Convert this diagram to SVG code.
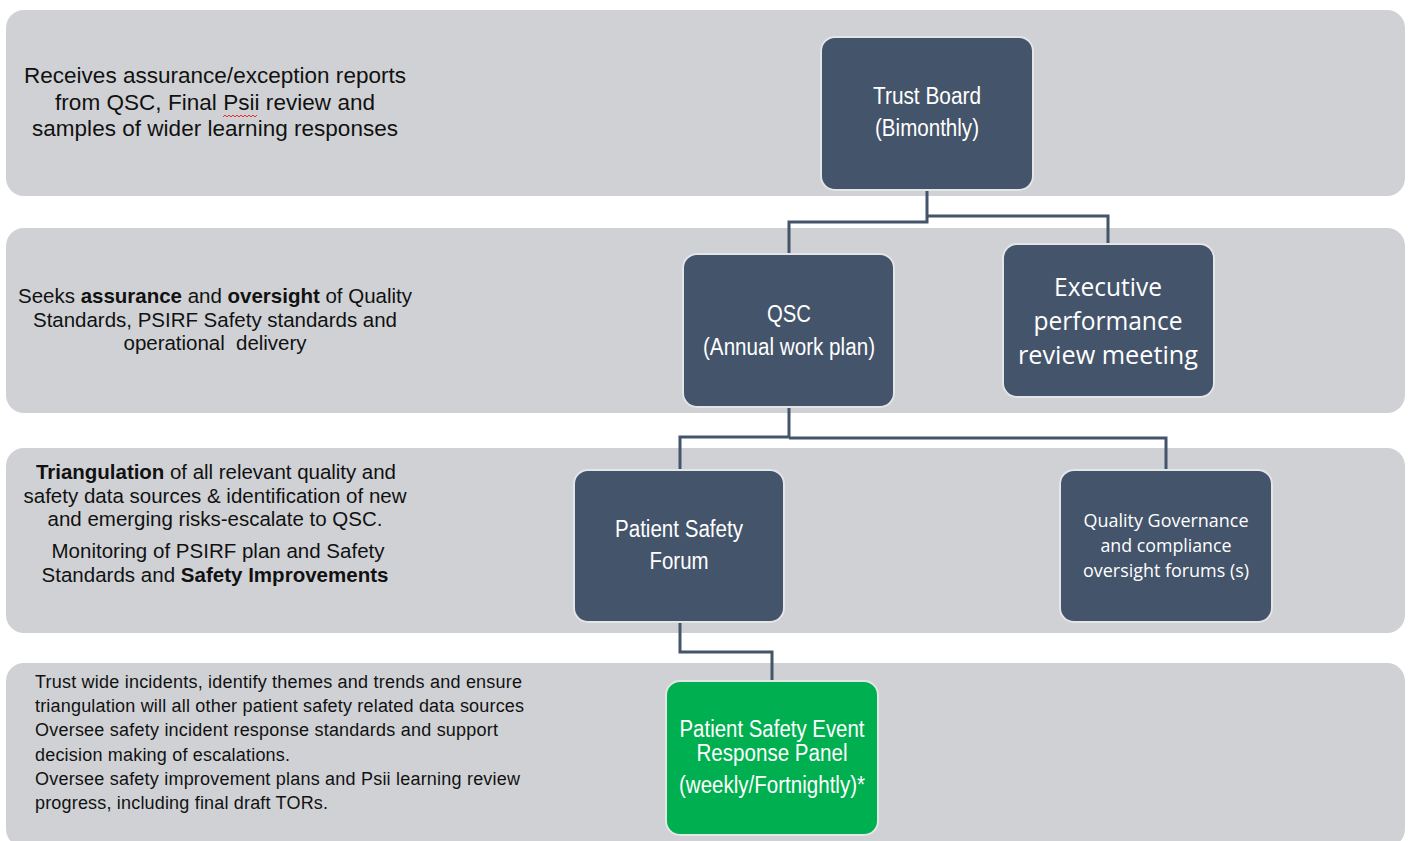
<svg xmlns="http://www.w3.org/2000/svg" width="1411" height="841" viewBox="0 0 1411 841">
<defs>
<style>
.band{fill:#D0D1D5;}
.node{fill:#44546A;stroke:#E4E5E8;stroke-width:2;}
.green{fill:#00B050;stroke:#E4E5E8;stroke-width:2;}
.nt{font-family:"Liberation Sans",Arial,sans-serif;fill:#FFFFFF;text-anchor:middle;}
.ct{font-family:"Open Sans","Noto Sans",sans-serif;fill:#FFFFFF;text-anchor:middle;}
.bt{font-family:"Liberation Sans",Arial,sans-serif;fill:#111111;text-anchor:middle;}
.lt{font-family:"Liberation Sans",Arial,sans-serif;fill:#111111;font-size:18px;}
.b{font-weight:bold;}
.conn{fill:none;stroke:#44546A;stroke-width:3;stroke-linejoin:miter;}
</style>
</defs>
<rect width="1411" height="841" fill="#FFFFFF"/>
<g id="bands">
<rect class="band" x="6" y="10" width="1399" height="186" rx="18"/>
<rect class="band" x="6" y="228" width="1399" height="185" rx="18"/>
<rect class="band" x="6" y="448" width="1399" height="185" rx="18"/>
<rect class="band" x="6" y="663" width="1399" height="184" rx="18"/>
</g>
<g id="band-texts">
<text class="bt" font-size="22.5"><tspan x="215" y="83" textLength="382">Receives assurance/exception reports</tspan><tspan x="215" y="110" textLength="320">from QSC, Final Psii review and</tspan><tspan x="215" y="136" textLength="366">samples of wider learning responses</tspan></text>
<path d="M223,117 l2,-2 l2,2 l2,-2 l2,2 l2,-2 l2,2 l2,-2 l2,2 l2,-2 l2,2 l2,-2 l2,2 l2,-2 l2,2 l2,-2 l2,2 l2,-2" fill="none" stroke="#E03030" stroke-width="1"/>
<text class="bt" font-size="20.5" x="215" y="303" textLength="394">Seeks <tspan class="b">assurance</tspan> and <tspan class="b">oversight</tspan> of Quality</text>
<text class="bt" font-size="20.5" x="215" y="327" textLength="364">Standards, PSIRF Safety standards and</text>
<text class="bt" font-size="20.5" x="215" y="350" textLength="183">operational&#160; delivery</text>
<text class="bt" font-size="20.5" x="216" y="479" textLength="360"><tspan class="b">Triangulation</tspan> of all relevant quality and</text>
<text class="bt" font-size="20.5" x="215" y="503" textLength="383">safety data sources &amp; identification of new</text>
<text class="bt" font-size="20.5" x="215" y="526" textLength="335">and emerging risks-escalate to QSC.</text>
<text class="bt" font-size="20.5" x="218" y="558" textLength="333">Monitoring of PSIRF plan and Safety</text>
<text class="bt" font-size="20.5" x="215" y="582" textLength="347">Standards and <tspan class="b">Safety Improvements</tspan></text>
<text class="lt"><tspan x="35" y="688" textLength="487">Trust wide incidents, identify themes and trends and ensure</tspan><tspan x="35" y="712" textLength="489">triangulation will all other patient safety related data sources</tspan><tspan x="35" y="736" textLength="463">Oversee safety incident response standards and support</tspan><tspan x="35" y="761" textLength="255">decision making of escalations.</tspan><tspan x="35" y="785" textLength="485">Oversee safety improvement plans and Psii learning review</tspan><tspan x="35" y="809" textLength="293">progress, including final draft TORs.</tspan></text>
</g>
<g id="connectors">
<path class="conn" d="M927,190 V222 H789 V254"/>
<path class="conn" d="M927,216 H1108 V244"/>
<path class="conn" d="M789,407 V437 H680 V470"/>
<path class="conn" d="M789,438 H1166 V470"/>
<path class="conn" d="M680,622 V652 H772 V681"/>
</g>
<g id="trust-board">
<rect class="node" x="821" y="37" width="212" height="153" rx="14"/>
<text class="nt" font-size="23"><tspan x="927" y="104" textLength="108" lengthAdjust="spacingAndGlyphs">Trust Board</tspan><tspan x="927" y="136" textLength="104" lengthAdjust="spacingAndGlyphs">(Bimonthly)</tspan></text>
</g>
<g id="qsc">
<rect class="node" x="683" y="254" width="211" height="153" rx="14"/>
<text class="nt" font-size="23"><tspan x="789" y="322" textLength="44" lengthAdjust="spacingAndGlyphs">QSC</tspan><tspan x="789" y="355" textLength="172" lengthAdjust="spacingAndGlyphs">(Annual work plan)</tspan></text>
</g>
<g id="executive">
<rect class="node" x="1003" y="244" width="211" height="153" rx="14"/>
<text class="ct" font-size="26"><tspan x="1108" y="296" textLength="108" lengthAdjust="spacingAndGlyphs">Executive</tspan><tspan x="1108" y="330" textLength="149" lengthAdjust="spacingAndGlyphs">performance</tspan><tspan x="1108" y="364" textLength="180" lengthAdjust="spacingAndGlyphs">review meeting</tspan></text>
</g>
<g id="patient-safety-forum">
<rect class="node" x="574" y="470" width="210" height="152" rx="14"/>
<text class="nt" font-size="23"><tspan x="679" y="537" textLength="128" lengthAdjust="spacingAndGlyphs">Patient Safety</tspan><tspan x="679" y="569" textLength="59" lengthAdjust="spacingAndGlyphs">Forum</tspan></text>
</g>
<g id="quality-governance">
<rect class="node" x="1060" y="470" width="212" height="152" rx="14"/>
<text class="ct" font-size="18"><tspan x="1166" y="527" textLength="165" lengthAdjust="spacingAndGlyphs">Quality Governance</tspan><tspan x="1166" y="552" textLength="131" lengthAdjust="spacingAndGlyphs">and compliance</tspan><tspan x="1166" y="577" textLength="166" lengthAdjust="spacingAndGlyphs">oversight forums (s)</tspan></text>
</g>
<g id="pserp">
<rect class="green" x="666" y="681" width="212" height="154" rx="14"/>
<text class="nt" font-size="23"><tspan x="772" y="737" textLength="185" lengthAdjust="spacingAndGlyphs">Patient Safety Event</tspan><tspan x="772" y="761" textLength="151" lengthAdjust="spacingAndGlyphs">Response Panel</tspan><tspan x="772" y="793" textLength="186" lengthAdjust="spacingAndGlyphs">(weekly/Fortnightly)*</tspan></text>
</g>
</svg>
